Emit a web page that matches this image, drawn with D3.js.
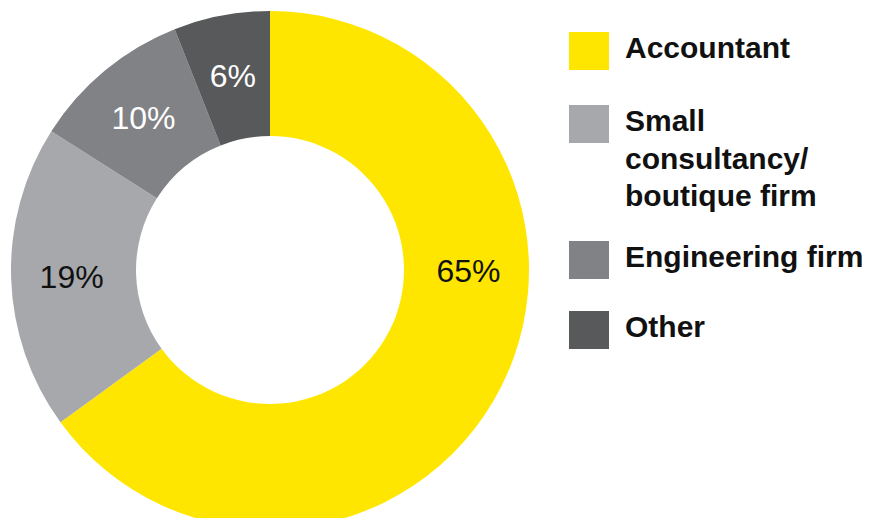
<!DOCTYPE html>
<html>
<head>
<meta charset="utf-8">
<script src="https://cdn.jsdelivr.net/npm/d3@7"></script>
<style>
  html, body { margin: 0; padding: 0; background: #fff; }
  svg { display: block; }
</style>
</head>
<body>
<svg id="chart" width="869" height="518"></svg>
<script>
// Who advises on the work: share of respondents by adviser type
const categories = ["Accountant", "Small consultancy/ boutique firm", "Engineering firm", "Other"];
const legendLines = [["Accountant"], ["Small", "consultancy/", "boutique firm"], ["Engineering firm"], ["Other"]];
const shares = [65, 19, 10, 6];
const labels = ["65%", "19%", "10%", "6%"];
const colors = ["#FFE600", "#A7A8AB", "#808285", "#58595B"];
const labelColors = ["#111111", "#111111", "#ffffff", "#ffffff"];

const svg = d3.select("#chart");
const cx = 270, cy = 270, outerR = 259, innerR = 134;

const pie = d3.pie().sort(null).value(d => d)(shares);
const arc = d3.arc().innerRadius(innerR).outerRadius(outerR);

const g = svg.append("g").attr("transform", `translate(${cx},${cy})`);

g.selectAll("path.slice")
  .data(pie)
  .join("path")
  .attr("class", "slice")
  .attr("d", arc)
  .attr("fill", (d, i) => colors[i]);

// The large slice carries its label at the 3 o'clock position; the rest sit at the centroid
const labelArc = d3.arc().innerRadius(innerR).outerRadius(outerR + 4);
g.selectAll("text.pct")
  .data(pie)
  .join("text")
  .attr("class", "pct")
  .attr("transform", (d, i) => {
    const p = i === 0
      ? labelArc.centroid({ startAngle: Math.PI / 2, endAngle: Math.PI / 2 })
      : labelArc.centroid(d);
    return `translate(${p[0]},${p[1] + 1})`;
  })
  .attr("text-anchor", "middle")
  .attr("dominant-baseline", "central")
  .attr("font-family", "'Liberation Sans', Arial, sans-serif")
  .attr("font-size", 32)
  .attr("fill", (d, i) => labelColors[i])
  .text((d, i) => labels[i]);

// Legend
const legendTop = [32, 105, 241, 311];
const legend = svg.append("g").attr("transform", "translate(569,0)");
const items = legend.selectAll("g.item")
  .data(categories)
  .join("g")
  .attr("class", "item")
  .attr("transform", (d, i) => `translate(0,${legendTop[i]})`);

items.append("rect")
  .attr("width", 40)
  .attr("height", 38)
  .attr("fill", (d, i) => colors[i]);

items.append("text")
  .attr("x", 56)
  .attr("y", 26)
  .attr("font-family", "'Liberation Sans', Arial, sans-serif")
  .attr("font-weight", "bold")
  .attr("font-size", 30)
  .attr("fill", "#111")
  .selectAll("tspan")
  .data((d, i) => legendLines[i])
  .join("tspan")
  .attr("x", 56)
  .attr("dy", (d, j) => j === 0 ? 0 : 37.5)
  .text(d => d);
</script>
</body>
</html>
